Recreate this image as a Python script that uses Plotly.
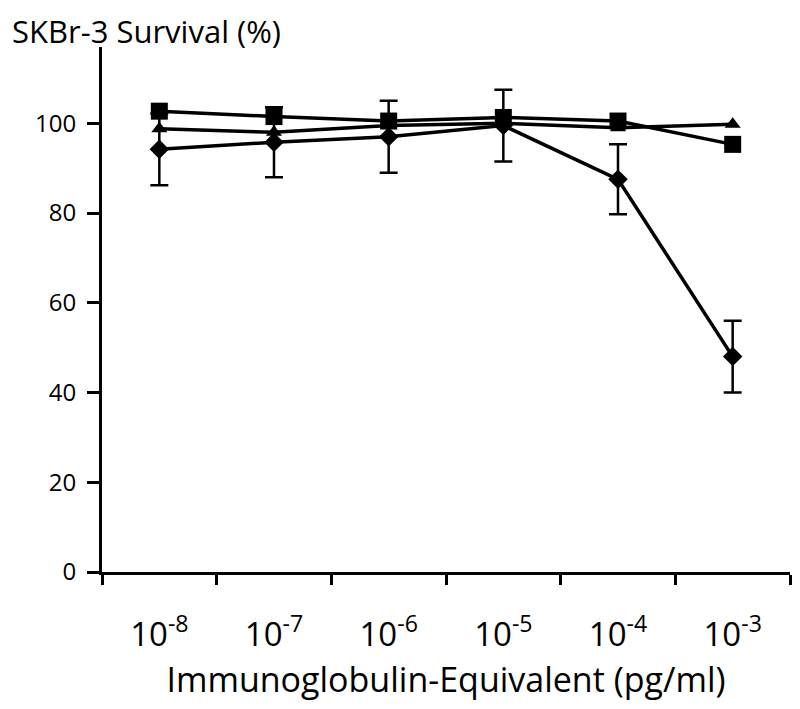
import plotly.graph_objects as go

concentrations = ["10<sup>-8</sup>", "10<sup>-7</sup>", "10<sup>-6</sup>",
                  "10<sup>-5</sup>", "10<sup>-4</sup>", "10<sup>-3</sup>"]
square_vals = [102.7, 101.5, 100.5, 101.3, 100.5, 95.3]
triangle_vals = [98.8, 98.0, 99.5, 100.0, 99.0, 99.8]
diamond_vals = [94.2, 95.8, 97.0, 99.5, 87.5, 48.0]
diamond_err = [8.0, 7.8, 8.0, 8.0, 7.8, 8.0]
y_ticks = [0, 20, 40, 60, 80, 100]

FONT = "Open Sans"
fig = go.Figure()

fig.add_trace(go.Scatter(
    x=concentrations, y=triangle_vals, mode="lines+markers",
    line=dict(color="black", width=3.5),
    marker=dict(symbol="triangle-up", size=14, color="black"),
    showlegend=False))
fig.add_trace(go.Scatter(
    x=concentrations, y=square_vals, mode="lines+markers",
    line=dict(color="black", width=3.5),
    marker=dict(symbol="square", size=17, color="black"),
    showlegend=False))
fig.add_trace(go.Scatter(
    x=concentrations, y=diamond_vals, mode="lines+markers",
    line=dict(color="black", width=3.5),
    marker=dict(symbol="diamond", size=15, color="black"),
    error_y=dict(type="data", array=diamond_err, visible=True,
                 color="black", thickness=2.5, width=9),
    showlegend=False))

fig.add_annotation(
    text="SKBr-3 Survival (%)", xref="paper", yref="paper",
    x=-0.1355, y=1.0, xanchor="left", yanchor="bottom", xshift=2, yshift=-6,
    showarrow=False, borderpad=0,
    font=dict(family=FONT, size=31, color="black"))

fig.update_layout(
    width=800, height=709,
    margin=dict(l=94, r=18, t=39, b=145, autoexpand=False),
    paper_bgcolor="white", plot_bgcolor="white",
    font=dict(family=FONT, color="black"),
    xaxis=dict(
        type="category", categoryorder="array", categoryarray=concentrations,
        range=[-0.5, 5.5], tickson="boundaries", automargin=False,
        showline=True, linecolor="black", linewidth=3,
        ticks="outside", ticklen=10, tickwidth=3, tickcolor="black",
        showgrid=False, zeroline=False,
        tickfont=dict(family=FONT, size=33, color="black"),
        ticklabelstandoff=31,
        title=dict(text="Immunoglobulin-Equivalent (pg/ml)",
                   font=dict(family=FONT, size=34, color="black"), standoff=13),
    ),
    yaxis=dict(
        range=[0, 117], tickvals=y_ticks, automargin=False,
        showline=True, linecolor="black", linewidth=3,
        ticks="outside", ticklen=12, tickwidth=3, tickcolor="black",
        showgrid=False, zeroline=False,
        tickfont=dict(family=FONT, size=24, color="black"),
        ticklabelstandoff=6,
    ),
)

fig.write_html("out.html")
